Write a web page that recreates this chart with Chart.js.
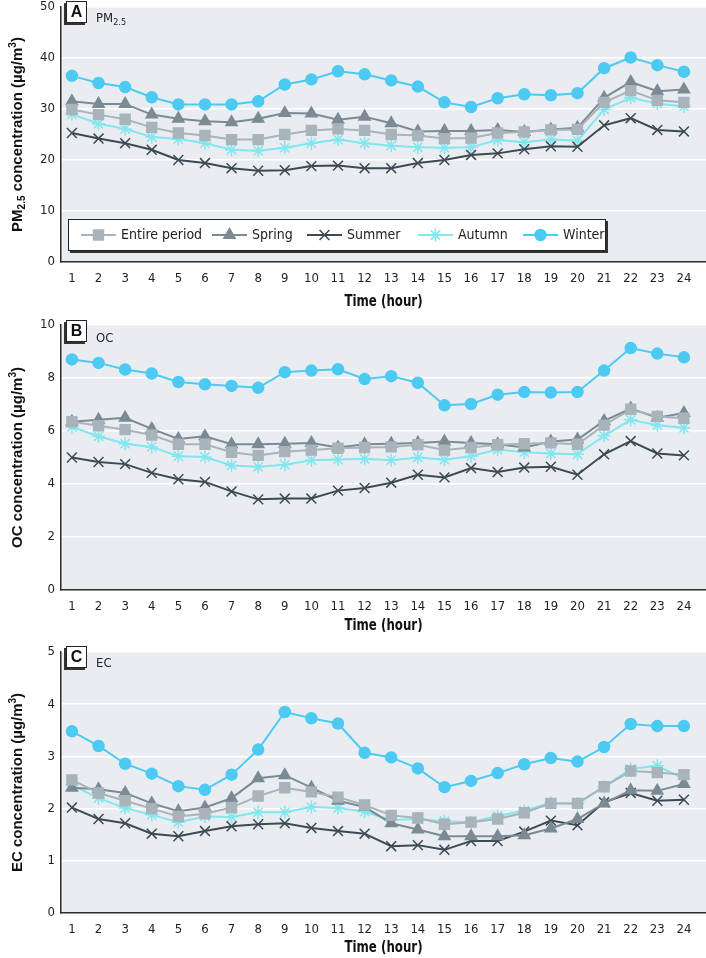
<!DOCTYPE html>
<html>
<head>
<meta charset="utf-8">
<script src="https://cdn.jsdelivr.net/npm/chart.js@4.4.1/dist/chart.umd.min.js"></script>
<style>
  body { margin: 0; background: #fff; width: 706px; height: 958px; position: relative; overflow: hidden; }
  canvas { position: absolute; left: 0; }
  .tag { position: absolute; left: 66px; width: 19px; height: 20px; background: #fff; border: 1px solid #222;
         box-shadow: -2px 2px 0 #333; font: bold 16px 'Liberation Sans', Arial, sans-serif; color: #111;
         text-align: center; line-height: 20px; }
  .name { position: absolute; left: 96px; font: 13px 'Liberation Sans Narrow', 'DejaVu Sans Condensed', 'Liberation Sans', sans-serif; color: #222; }
  .name sub { font-size: 9px; vertical-align: -3px; }
</style>
</head>
<body>
<canvas id="chartA" width="706" height="316" style="top:0"></canvas>
<canvas id="chartB" width="706" height="316" style="top:316px"></canvas>
<canvas id="chartC" width="706" height="326" style="top:632px"></canvas>

<div class="tag" style="top:1px">A</div><div class="name" style="top:10px">PM<sub>2.5</sub></div>
<div class="tag" style="top:320px">B</div><div class="name" style="top:330px">OC</div>
<div class="tag" style="top:646px">C</div><div class="name" style="top:655px">EC</div>

<script>
// ── Data ──────────────────────────────────────────────────────────────────────
const HOURS = [1, 2, 3, 4, 5, 6, 7, 8, 9, 10, 11, 12, 13, 14, 15, 16, 17, 18, 19, 20, 21, 22, 23, 24];
const SERIES_NAMES = ['Entire period', 'Spring', 'Summer', 'Autumn', 'Winter'];

const PM_ENTIRE = [29.9, 28.9, 28.0, 26.4, 25.3, 24.8, 24.0, 24.0, 25.0, 25.8, 26.1, 25.8, 25.0, 24.8, 24.2, 24.3, 25.3, 25.5, 25.9, 26.0, 31.3, 33.6, 31.7, 31.3];
const PM_SPRING = [31.5, 31.0, 31.0, 28.9, 28.1, 27.6, 27.4, 28.1, 29.2, 29.1, 27.9, 28.5, 27.2, 25.6, 25.7, 25.7, 25.9, 25.5, 26.0, 26.3, 32.2, 35.3, 33.5, 33.8];
const PM_SUMMER = [25.3, 24.2, 23.3, 22.0, 20.0, 19.4, 18.4, 17.9, 18.0, 18.8, 18.9, 18.4, 18.4, 19.4, 20.0, 21.0, 21.3, 22.1, 22.7, 22.6, 26.8, 28.2, 25.9, 25.6];
const PM_AUTUMN = [29.0, 27.1, 26.1, 24.5, 24.1, 23.3, 22.0, 21.8, 22.4, 23.3, 24.0, 23.3, 22.8, 22.5, 22.4, 22.5, 23.9, 23.5, 24.0, 23.8, 29.9, 32.2, 31.1, 30.5];
const PM_WINTER = [36.5, 35.1, 34.3, 32.3, 30.9, 30.9, 30.9, 31.5, 34.8, 35.8, 37.4, 36.8, 35.6, 34.4, 31.3, 30.4, 32.1, 32.9, 32.7, 33.1, 38.0, 40.1, 38.6, 37.3];

const OC_ENTIRE = [6.35, 6.20, 6.05, 5.85, 5.50, 5.50, 5.20, 5.08, 5.22, 5.28, 5.35, 5.38, 5.40, 5.48, 5.28, 5.38, 5.48, 5.52, 5.55, 5.50, 6.22, 6.82, 6.55, 6.48];
const OC_SPRING = [6.35, 6.42, 6.50, 6.08, 5.70, 5.80, 5.50, 5.50, 5.52, 5.55, 5.38, 5.50, 5.52, 5.55, 5.60, 5.55, 5.50, 5.38, 5.60, 5.68, 6.38, 6.85, 6.50, 6.68];
const OC_SUMMER = [5.00, 4.83, 4.75, 4.42, 4.18, 4.08, 3.72, 3.42, 3.45, 3.45, 3.75, 3.85, 4.05, 4.35, 4.25, 4.60, 4.45, 4.62, 4.65, 4.35, 5.12, 5.62, 5.15, 5.08];
const OC_AUTUMN = [6.15, 5.80, 5.52, 5.40, 5.05, 5.02, 4.70, 4.65, 4.73, 4.90, 4.92, 4.95, 4.90, 5.00, 4.92, 5.05, 5.30, 5.20, 5.15, 5.12, 5.82, 6.42, 6.22, 6.12];
const OC_WINTER = [8.70, 8.57, 8.32, 8.17, 7.85, 7.76, 7.70, 7.63, 8.22, 8.28, 8.33, 7.96, 8.07, 7.82, 6.97, 7.02, 7.37, 7.47, 7.45, 7.47, 8.28, 9.13, 8.92, 8.78];

const EC_ENTIRE = [2.55, 2.30, 2.15, 2.00, 1.85, 1.90, 2.02, 2.24, 2.40, 2.32, 2.22, 2.07, 1.87, 1.82, 1.70, 1.74, 1.80, 1.92, 2.10, 2.10, 2.42, 2.72, 2.69, 2.65];
const EC_SPRING = [2.40, 2.37, 2.30, 2.10, 1.95, 2.02, 2.20, 2.58, 2.64, 2.40, 2.15, 2.03, 1.72, 1.60, 1.47, 1.47, 1.47, 1.49, 1.62, 1.80, 2.10, 2.35, 2.34, 2.47];
const EC_SUMMER = [2.02, 1.80, 1.72, 1.52, 1.47, 1.57, 1.66, 1.70, 1.72, 1.63, 1.57, 1.52, 1.28, 1.30, 1.21, 1.38, 1.38, 1.56, 1.77, 1.68, 2.12, 2.30, 2.15, 2.17];
const EC_AUTUMN = [2.45, 2.20, 2.01, 1.88, 1.74, 1.85, 1.84, 1.93, 1.93, 2.03, 2.01, 1.94, 1.78, 1.80, 1.76, 1.74, 1.86, 1.96, 2.11, 2.10, 2.42, 2.76, 2.82, 2.57];
const EC_WINTER = [3.48, 3.20, 2.86, 2.67, 2.43, 2.36, 2.65, 3.13, 3.85, 3.73, 3.63, 3.07, 2.98, 2.77, 2.41, 2.53, 2.68, 2.85, 2.97, 2.90, 3.18, 3.62, 3.58, 3.58];

// ── Styles ────────────────────────────────────────────────────────────────────
const COLORS  = ['#a8b3ba', '#7b8a93', '#3d4a52', '#82e6ee', '#4ccaf2'];
const MARKERS = [
  { style: 'rect',     radius: 7 },
  { style: 'triangle', radius: 6.5 },
  { style: 'crossRot', radius: 7 },
  { style: 'star',     radius: 6.5 },
  { style: 'circle',   radius: 5.5 }
];
const PLOT_BG = '#e9edf1';
const AXIS    = '#2b2b2b';
const COND    = "'Liberation Sans Narrow', 'DejaVu Sans Condensed', 'Liberation Sans', sans-serif";

// ── Plugin: plot background, rich axis titles, boxed legend ──────────────────
const panelPlugin = {
  id: 'panel',
  beforeDraw(chart) {
    const { ctx, chartArea: a } = chart;
    ctx.save();
    ctx.fillStyle = PLOT_BG;
    ctx.fillRect(a.left, a.top, a.right - a.left, a.bottom - a.top);
    ctx.restore();
  },
  afterDraw(chart, args, opts) {
    const { ctx, chartArea: a } = chart;

    // y title with sub/superscripts, rotated
    ctx.save();
    ctx.translate(18, (a.top + a.bottom) / 2);
    ctx.rotate(-Math.PI / 2);
    ctx.fillStyle = '#111';
    ctx.textBaseline = 'middle';
    const big = "bold 15px 'Liberation Sans', Arial, sans-serif";
    const small = "bold 10px 'Liberation Sans', Arial, sans-serif";
    let total = 0;
    opts.yTitle.forEach(s => { ctx.font = s.sub || s.sup ? small : big; total += ctx.measureText(s.t).width; });
    let x = -total / 2;
    opts.yTitle.forEach(s => {
      ctx.font = s.sub || s.sup ? small : big;
      ctx.fillText(s.t, x, s.sub ? 4 : s.sup ? -5 : 0);
      x += ctx.measureText(s.t).width;
    });
    ctx.restore();

    // x title (squeezed a little to look condensed)
    ctx.save();
    ctx.font = `bold 16px ${COND}`;
    ctx.fillStyle = '#111';
    ctx.textAlign = 'center';
    ctx.textBaseline = 'middle';
    ctx.translate((a.left + a.right) / 2, a.bottom + opts.xTitleGap);
    ctx.scale(0.82, 1);
    ctx.fillText('Time (hour)', 0, 0);
    ctx.restore();

    if (!opts.legend) return;
    const L = a.left + 7, T = a.bottom - 43, W = 538, H = 32;
    ctx.save();
    ctx.fillStyle = '#333';
    ctx.fillRect(L + 2, T + 2, W, H);
    ctx.fillStyle = '#fff';
    ctx.fillRect(L, T, W, H);
    ctx.strokeStyle = '#222';
    ctx.lineWidth = 1;
    ctx.strokeRect(L + 0.5, T + 0.5, W - 1, H - 1);
    const starts = [13, 144, 239, 350, 455];
    const cy = T + H / 2;
    chart.data.datasets.forEach((ds, i) => {
      const lx = L + starts[i];
      ctx.strokeStyle = ds.borderColor;
      ctx.fillStyle = ds.pointBackgroundColor;
      ctx.lineWidth = 2;
      ctx.beginPath(); ctx.moveTo(lx, cy); ctx.lineTo(lx + 35, cy); ctx.stroke();
      ctx.lineWidth = 1.5;
      Chart.helpers.drawPoint(ctx, { pointStyle: ds.pointStyle, radius: ds.pointRadius, rotation: 0, borderWidth: 1.5 }, lx + 17.5, cy);
      ctx.fillStyle = '#222';
      ctx.font = `14px ${COND}`;
      ctx.textBaseline = 'middle';
      ctx.fillText(ds.label, lx + 40, cy);
    });
    ctx.restore();
  }
};

// ── Charts ────────────────────────────────────────────────────────────────────
function makeDatasets(series) {
  return series.map((vals, i) => ({
    label: SERIES_NAMES[i],
    data: HOURS.map((h, j) => ({ x: h, y: vals[j] })),
    borderColor: COLORS[i],
    backgroundColor: COLORS[i],
    pointBackgroundColor: COLORS[i],
    pointBorderColor: COLORS[i],
    pointStyle: MARKERS[i].style,
    pointRadius: MARKERS[i].radius,
    pointBorderWidth: 1.5,
    borderWidth: 2,
    tension: 0
  }));
}

function renderPanel(id, series, yMax, yStep, padTop, xHeight, yTitle, xTitleGap, legend) {
  new Chart(document.getElementById(id), {
    type: 'line',
    data: { datasets: makeDatasets(series) },
    plugins: [panelPlugin],
    options: {
      responsive: false, animation: false,
      layout: { autoPadding: false, padding: { top: padTop, left: 0, right: 0, bottom: 0 } },
      plugins: {
        legend: { display: false }, tooltip: { enabled: false },
        panel: { yTitle, xTitleGap, legend }
      },
      scales: {
        x: {
          type: 'linear', min: 0.59, max: 24.83,
          afterBuildTicks: s => { s.ticks = HOURS.map(v => ({ value: v })); },
          afterFit: s => { s.height = xHeight; s.paddingLeft = 0; s.paddingRight = 0; },
          grid: { display: false, drawTicks: false },
          border: { color: AXIS, width: 1.5 },
          ticks: { padding: 9, color: '#222', autoSkip: false, maxRotation: 0, font: { family: COND, size: 13 } }
        },
        y: {
          min: 0, max: yMax,
          afterFit: s => { s.width = 61; s.paddingTop = 0; s.paddingBottom = 0; },
          grid: { color: '#ffffff', lineWidth: 1.5, drawTicks: false },
          border: { color: AXIS, width: 1.5 },
          ticks: { stepSize: yStep, padding: 6, color: '#222', font: { family: COND, size: 13 } }
        }
      }
    }
  });
}

renderPanel('chartA', [PM_ENTIRE, PM_SPRING, PM_SUMMER, PM_AUTUMN, PM_WINTER], 50, 10, 7, 54,
  [{ t: 'PM' }, { t: '2.5', sub: true }, { t: ' concentration (µg/m' }, { t: '3', sup: true }, { t: ')' }], 40, true);
renderPanel('chartB', [OC_ENTIRE, OC_SPRING, OC_SUMMER, OC_AUTUMN, OC_WINTER], 10, 2, 9, 42,
  [{ t: 'OC concentration (µg/m' }, { t: '3', sup: true }, { t: ')' }], 36, false);
renderPanel('chartC', [EC_ENTIRE, EC_SPRING, EC_SUMMER, EC_AUTUMN, EC_WINTER], 5, 1, 20, 45,
  [{ t: 'EC concentration (µg/m' }, { t: '3', sup: true }, { t: ')' }], 35, false);
</script>
</body>
</html>
